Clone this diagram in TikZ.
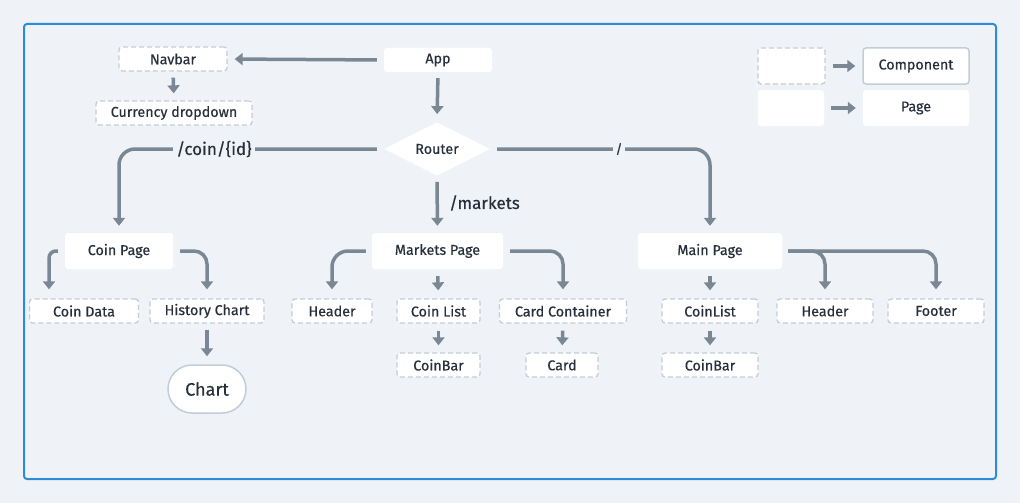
\documentclass[tikz,border=0pt]{standalone}
\usepackage{fontspec}
\setmainfont[FakeBold=0.4]{Fira Sans}
\usetikzlibrary{arrows.meta,shapes.geometric}
\definecolor{bg}{HTML}{EFF3F7}
\definecolor{frameblue}{HTML}{2F8AD9}
\definecolor{arrowc}{HTML}{7A8896}
\definecolor{dashc}{HTML}{C3CDD8}
\definecolor{txt}{HTML}{27303A}
\tikzset{
  box/.style={rectangle, rounded corners=3pt, fill=white, minimum height=24pt, inner sep=0pt, font=\fontsize{14.3}{16}\selectfont, text=txt},
  comp/.style={box, draw=dashc, dash pattern=on 5pt off 3pt, line width=1.3pt},
  pagebox/.style={box, minimum height=36pt},
  conn/.style={draw=arrowc, line width=3.5pt, -{Triangle[length=8pt,width=12pt]}, rounded corners=13pt},
  lbl/.style={fill=bg, inner sep=3pt, text=txt, font=\fontsize{17}{19}\selectfont},
}
\begin{document}
\begin{tikzpicture}[x=1pt,y=-1pt]
\fill[bg] (0,0) rectangle (1020,503);
\useasboundingbox (0,0) rectangle (1020,503);
\draw[frameblue, line width=2pt, rounded corners=3pt] (24,24) rectangle (996,479);

% top
\node[comp, minimum width=108pt] (navbar) at (173,59) {Navbar};
\node[box, minimum width=108pt] (app) at (438,60) {App};
\node[comp, minimum width=156pt] (cur) at (174,113) {Currency dropdown};
\node[diamond, fill=white, minimum width=106pt, minimum height=48pt, inner sep=0pt, text=txt, font=\fontsize{14.3}{16}\selectfont] (router) at (437,149) {Router};

% pages
\node[pagebox, minimum width=108pt] (coinpage) at (119,251) {Coin Page};
\node[pagebox, minimum width=131pt] (markets) at (437.5,251) {Markets Page};
\node[pagebox, minimum width=144pt] (main) at (710,251) {Main Page};

% row 3
\node[comp, minimum width=109pt] (coindata) at (84,311) {Coin Data};
\node[comp, minimum width=114pt] (history) at (207,311) {History Chart};
\node[comp, minimum width=80pt] (mheader) at (332,311) {Header};
\node[comp, minimum width=83pt] (coinlist) at (438.5,311) {Coin List};
\node[comp, minimum width=127pt] (cardc) at (563,311) {Card Container};
\node[comp, minimum width=96pt] (coinlist2) at (710,311) {CoinList};
\node[comp, minimum width=96pt] (header2) at (825,311) {Header};
\node[comp, minimum width=96pt] (footer) at (936,311) {Footer};

% row 4
\node[comp, minimum width=83pt] (coinbar) at (438.5,365) {CoinBar};
\node[comp, minimum width=72pt] (card) at (562,365) {Card};
\node[comp, minimum width=96pt] (coinbar2) at (710,365) {CoinBar};
\node[rectangle, rounded corners=24pt, fill=white, draw=dashc, line width=1.5pt, minimum width=78pt, minimum height=48pt, inner sep=0pt, text=txt, font=\fontsize{18}{20}\selectfont] (chart) at (207,389) {Chart};

% legend
\node[comp, minimum width=67pt, minimum height=36pt] (legc) at (791.5,66) {};
\node[box, draw=dashc, line width=1.5pt, minimum width=106pt, minimum height=36pt] (component) at (916,66) {Component};
\node[pagebox, minimum width=66pt] (legp) at (791,108) {};
\node[pagebox, minimum width=106pt] (page) at (916,108) {Page};

% connectors
\draw[conn, shorten <=7pt, shorten >=7pt] (app.west) -- (navbar.east);
\draw[conn, shorten <=6pt, shorten >=7pt] (navbar.south) -- (cur.north);
\draw[conn, shorten <=6pt, shorten >=8pt] (app.south) -- (router.north);
\draw[conn, rounded corners=16pt, shorten <=7pt, shorten >=7pt] (router.west) -| (coinpage.north);
\draw[conn, shorten <=6pt, shorten >=7pt] (router.south) -- (markets.north);
\draw[conn, rounded corners=16pt, shorten <=7pt, shorten >=7pt] (router.east) -| (main.north);

\draw[conn, rounded corners=7pt, shorten <=7pt, shorten >=9pt] (coinpage.west) -| ([xshift=-35pt]coindata.north);
\draw[conn, shorten <=7pt, shorten >=9pt] (coinpage.east) -| (history.north);
\draw[conn, rounded corners=16pt, shorten <=6pt, shorten >=9pt] (markets.west) -| (mheader.north);
\draw[conn, shorten <=7pt, shorten >=8pt] (markets.south) -- (coinlist.north);
\draw[conn, shorten <=7pt, shorten >=9pt] (markets.east) -| (cardc.north);
\draw[conn, shorten <=7pt, shorten >=8pt] (main.south) -- (coinlist2.north);
\draw[conn, shorten <=6pt, shorten >=9pt] (main.east) -| (header2.north);
\draw[conn, shorten <=6pt, shorten >=9pt] (main.east) -| (footer.north);

\draw[conn, shorten <=7pt, shorten >=7pt] (coinlist.south) -- (coinbar.north);
\draw[conn, shorten <=7pt, shorten >=7pt] (cardc.south) -- (card.north);
\draw[conn, shorten <=7pt, shorten >=7pt] (coinlist2.south) -- (coinbar2.north);
\draw[conn, shorten <=6pt, shorten >=8pt] (history.south) -- (chart.north);

\draw[conn, shorten <=7pt, shorten >=7pt] (legc.east) -- (component.west);
\draw[conn, shorten <=7pt, shorten >=7pt] (legp.east) -- (page.west);

% labels
\node[lbl] (lcoin) at (214,149) {/coin/\{id\}};
\node[lbl, inner sep=3pt, font=\fontsize{13}{15}\selectfont] (lroot) at (619,149) {/};
\node[lbl, fill=none, anchor=west] (lmarkets) at (446,203) {/markets};
\end{tikzpicture}
\end{document}
